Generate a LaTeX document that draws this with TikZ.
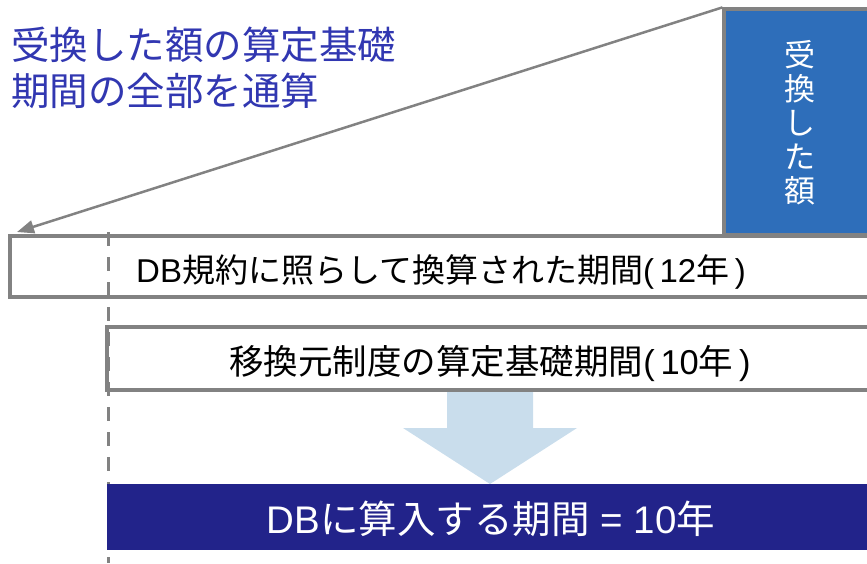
\documentclass[tikz,border=0pt]{standalone}
\usepackage{fontspec}
\setmainfont{Noto Sans CJK JP}
\newfontfamily\ar{Liberation Sans}
\usetikzlibrary{arrows.meta}
\definecolor{titleblue}{HTML}{3137B1}
\definecolor{boxblue}{HTML}{2E6EBA}
\definecolor{navy}{HTML}{22238A}
\definecolor{lightblue}{HTML}{C9DDEC}
\definecolor{edgegray}{HTML}{828282}
\newcommand{\myfs}[2]{\fontsize{#1}{#2}\selectfont}
\newcommand{\lat}[1]{{\ar #1}}
\tikzset{
  x=1pt, y=-1pt,
  box/.style={draw=edgegray, line width=3.2pt, rectangle, inner sep=0pt},
  lbl/.style={inner sep=0pt, anchor=base},
}
\begin{document}
\begin{tikzpicture}
\useasboundingbox (0,0) rectangle (867,563);
\clip (0,0) rectangle (867,563);
% blue box
\node[box, fill=boxblue, minimum width=156pt, minimum height=226pt] (blue) at (802,122) {};
\node[inner sep=0pt, align=center, text=white, font={\myfs{31}{34}}] (bluetxt) at (800,123) {受\\換\\し\\た\\額};
% title
\node[inner sep=0pt, anchor=base west, text=titleblue, font={\myfs{38.5}{46}}] (t1) at (11,59) {受換した額の算定基礎};
\node[inner sep=0pt, anchor=base west, text=titleblue, font={\myfs{38.5}{46}}] (t2) at (11,105) {期間の全部を通算};
% row boxes
\node[box, fill=white, minimum width=870pt, minimum height=61pt] (r1) at (445,266.5) {};
\node[lbl, font={\myfs{33}{33}}] (r1t) at (441,282) {\lat{DB}規約に照らして換算された期間\lat{(\,12}年\lat{\,)}};
\node[box, fill=white, minimum width=773pt, minimum height=63pt] (r2) at (493.5,358.5) {};
\node[lbl, font={\myfs{34.5}{34.5}}] (r2t) at (490,374) {移換元制度の算定基礎期間\lat{(\,10}年\lat{\,)}};
% dashed guide
\coordinate (dtop) at (108.5,232);
\coordinate (dbot) at (108.5,563);
\draw[edgegray, line width=3.5pt, dash pattern=on 14pt off 11pt] (dtop) -- (dbot);
% big down arrow
\fill[lightblue] (447,392) -- (533,392) -- (533,428) -- (577,428) -- (490,484) -- (403,428) -- (447,428) -- cycle;
% result box
\node[rectangle, inner sep=0pt, fill=navy, minimum width=773pt, minimum height=66pt] (res) at (493.5,517) {};
\node[lbl, text=white, font={\myfs{38.5}{38.5}}] (rest) at (491,533) {\lat{DB}に算入する期間\lat{ = 10}年};
% connector
\coordinate (tip) at (17,232);
\draw[edgegray, line width=2.5pt, -{Triangle[length=17pt,width=13pt]}] (blue.north west) -- (tip);
\end{tikzpicture}
\end{document}
